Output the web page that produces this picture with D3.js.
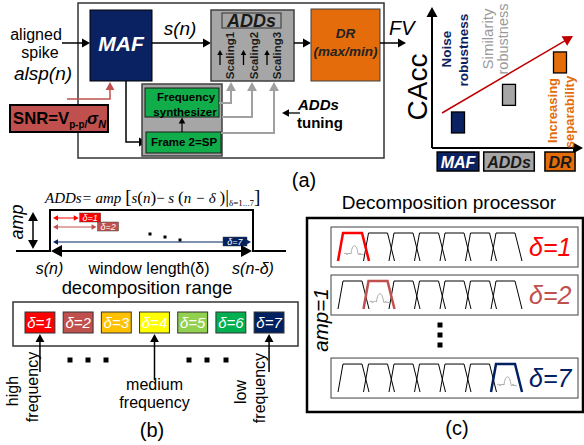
<!DOCTYPE html>
<html>
<head>
<meta charset="utf-8">
<script src="https://cdn.jsdelivr.net/npm/d3@7"></script>
<style>
  body { margin: 0; background: #fff; }
  text { font-family: "Liberation Sans", Arial, sans-serif; }
</style>
</head>
<body>
<svg id="fig" width="584" height="445"></svg>
<script>
// ---- data ----
let stages = ["MAF", "ADDs", "DR"]
let stageFill = ["#0b2262", "#a6a6a6", "#e46c0a"]
let stageInk = ["#ffffff", "#1a1a1a", "#1a1a1a"]
let caccValues = [0.185, 0.385, 0.62]          // relative CAcc level of each stage
let scalings = ["Scaling1", "Scaling2", "Scaling3"]

let deltas = [1, 2, 3, 4, 5, 6, 7]
let deltaColors = ["#ff0000", "#c0504d", "#ffc000", "#ffff00", "#92d050", "#00b050", "#002060"]
let shownDeltas = [1, 2, 7]                     // windows drawn on the pulse and rows in (c)
let windowFrac = [0.13, 0.22, 1.0]              // window length as share of the pulse
let rowSlot = [0, 1, 2.73]
let pointerDeltas = [1, 4, 7]
let pointerLabels = [["high", "frequency"], ["medium", "frequency"], ["low", "frequency"]]
let filterIndex = [0, 1, 2, 3, 4, 5, 6]

let svg = d3.select("#fig")

// ---- helpers ----
function head(g, x, y, a, h, c) {
  let hw = h * 0.55
  let pts = [
    [x, y],
    [x - h * Math.cos(a) + hw * Math.sin(a), y - h * Math.sin(a) - hw * Math.cos(a)],
    [x - h * Math.cos(a) - hw * Math.sin(a), y - h * Math.sin(a) + hw * Math.cos(a)]
  ]
  g.append("polygon").attr("points", pts.map(p => p.join(",")).join(" ")).attr("fill", c)
}

function arrow(g, x1, y1, x2, y2, opt = {}) {
  let c = opt.color || "#000", w = opt.width || 1.5, h = opt.head || 7
  let a = Math.atan2(y2 - y1, x2 - x1)
  let sx = x1, sy = y1
  if (opt.both) { sx = x1 + Math.cos(a) * h * 0.7; sy = y1 + Math.sin(a) * h * 0.7 }
  g.append("line")
    .attr("x1", sx).attr("y1", sy)
    .attr("x2", x2 - Math.cos(a) * h * 0.7).attr("y2", y2 - Math.sin(a) * h * 0.7)
    .attr("stroke", c).attr("stroke-width", w)
  head(g, x2, y2, a, h, c)
  if (opt.both) head(g, x1, y1, a + Math.PI, h, c)
}

function elbow(g, pts, opt = {}) {
  let c = opt.color || "#000", w = opt.width || 1.5, h = opt.head || 7
  let n = pts.length
  let last = pts[n - 1], prev = pts[n - 2]
  let a = Math.atan2(last[1] - prev[1], last[0] - prev[0])
  let p = pts.slice(0, n - 1).concat([[last[0] - Math.cos(a) * h * 0.7, last[1] - Math.sin(a) * h * 0.7]])
  g.append("path").attr("d", d3.line()(p)).attr("fill", "none")
    .attr("stroke", c).attr("stroke-width", w)
  head(g, last[0], last[1], a, h, c)
}

function label(g, x, y, str, size, opt = {}) {
  let t = g.append("text").attr("x", x).attr("y", y)
    .attr("font-size", size)
    .attr("text-anchor", opt.anchor || "middle")
    .attr("fill", opt.fill || "#000")
    .attr("font-weight", opt.bold ? "bold" : "normal")
    .attr("font-style", opt.italic ? "italic" : "normal")
    .text(str)
  if (opt.rotate) t.attr("transform", `rotate(-90,${x},${y})`).attr("dominant-baseline", "central")
  if (opt.family) t.style("font-family", opt.family)
  return t
}

// ================= (a) =================
let a = svg.append("g")

a.append("rect").attr("x", 78).attr("y", 3).attr("width", 306).attr("height", 155)
  .attr("fill", "none").attr("stroke", "#333").attr("stroke-width", 1.5)

label(a, 36, 40, "aligned", 16)
label(a, 40, 58, "spike", 16)
label(a, 43, 80, "alsp(n)", 19, { italic: true })
arrow(a, 62, 43, 90, 43, { head: 8 })

// MAF
a.append("rect").attr("x", 90).attr("y", 10).attr("width", 62).attr("height", 71)
  .attr("fill", stageFill[0]).attr("stroke", "#000").attr("stroke-width", 1)
label(a, 121, 51, "MAF", 21, { bold: true, italic: true, fill: "#fff" })

label(a, 180, 35, "s(n)", 19, { italic: true })
arrow(a, 152, 43, 211, 43, { head: 8 })

// SNR box
a.append("rect").attr("x", 10).attr("y", 105).attr("width", 98).attr("height", 27)
  .attr("fill", "#c0504d").attr("stroke", "#000").attr("stroke-width", 2)
let snr = a.append("text").attr("x", 13).attr("y", 124).attr("font-weight", "bold").attr("font-size", 17)
snr.append("tspan").text("SNR=V")
snr.append("tspan").attr("font-size", 10).attr("dy", 4).text("p-p/")
snr.append("tspan").attr("font-style", "italic").attr("dy", -4).text("σ")
snr.append("tspan").attr("font-style", "italic").attr("font-size", 11).attr("dy", 4).text("N")
let snrW = snr.node().getComputedTextLength()
if (snrW > 93) snr.attr("textLength", 93).attr("lengthAdjust", "spacingAndGlyphs")
elbow(a, [[67, 99], [110, 99], [110, 82]], { color: "#c0504d", width: 1.5, head: 8 })

// MAF -> frame
elbow(a, [[126, 81], [126, 142], [147, 142]], { head: 8 })

// synthesizer group
a.append("rect").attr("x", 142).attr("y", 84).attr("width", 80).attr("height", 72)
  .attr("fill", "#a6a6a6").attr("stroke", "#404040").attr("stroke-width", 1.5)
a.append("rect").attr("x", 145).attr("y", 88).attr("width", 74).attr("height", 29)
  .attr("fill", "#12ad4b").attr("stroke", "#1a1a1a").attr("stroke-width", 1)
a.append("rect").attr("x", 146).attr("y", 132).attr("width", 75).attr("height", 21)
  .attr("fill", "#12ad4b").attr("stroke", "#1a1a1a").attr("stroke-width", 1)
label(a, 186, 101, "Frequency", 11.5, { bold: true })
label(a, 185, 116, "synthesizer", 11.5, { bold: true })
label(a, 184, 146, "Frame 2=SP", 11.5, { bold: true })
arrow(a, 182, 132, 182, 117.5, { head: 6, width: 1.2 })

// tuning lines to the scaling inputs
let tuneX = [231, 252, 274]
let tuneFrom = [[219, 103], [222, 117], [221, 133]]
tuneX.forEach((x, i) => {
  elbow(a, [tuneFrom[i], [x, tuneFrom[i][1]], [x, 82]], { color: "#a0a0a0", width: 2, head: 9 })
})

// ADDs block
a.append("rect").attr("x", 211).attr("y", 10).attr("width", 83).attr("height", 71)
  .attr("fill", stageFill[1]).attr("stroke", "#404040").attr("stroke-width", 1.5)
a.append("rect").attr("x", 222).attr("y", 13).attr("width", 59).attr("height", 15)
  .attr("fill", stageFill[1]).attr("stroke", "#333").attr("stroke-width", 1)
label(a, 251.5, 27, "ADDs", 18, { bold: true, italic: true, fill: "#1a1a1a" })
let scX = d3.scalePoint().domain(scalings).range([230, 277])
scalings.forEach(s => {
  label(a, scX(s), 55.5, s, 11.5, { bold: true, rotate: true, fill: "#1a1a1a" })
  arrow(a, scX(s) - 10, 65, scX(s) - 10, 50, { head: 5, width: 1.3 })
})

arrow(a, 294, 43, 311, 43, { head: 8 })

// DR block
a.append("rect").attr("x", 311).attr("y", 9).attr("width", 69).attr("height", 72)
  .attr("fill", stageFill[2]).attr("stroke", "#404040").attr("stroke-width", 1)
label(a, 345.5, 38, "DR", 13.5, { bold: true, italic: true, fill: "#222" })
label(a, 345.5, 56, "(max/min)", 13.5, { bold: true, italic: true, fill: "#222" })

arrow(a, 380, 43, 406, 43, { head: 8 })
label(a, 389, 35, "FV", 20, { italic: true, anchor: "start" })

// ADDs tuning
arrow(a, 300, 113, 282, 113, { head: 7, width: 1.3 })
label(a, 298, 110, "ADDs", 15, { bold: true, italic: true, anchor: "start" })
label(a, 297, 128, "tuning", 15, { bold: true, anchor: "start" })

// CAcc chart
let cx = d3.scalePoint().domain(stages).range([458, 560])
let cy = d3.scaleLinear().domain([0, 1]).range([148, 10])
arrow(a, 432, 148, 432, 7, { head: 10, width: 2 })
arrow(a, 432, 148, 583, 148, { head: 10, width: 2 })
label(a, 417, 87, "CAcc", 28, { rotate: true })

stages.forEach((s, i) => {
  a.append("rect").attr("x", cx(s) - 6.5).attr("y", cy(caccValues[i]) - 10.5)
    .attr("width", 13).attr("height", 21)
    .attr("fill", stageFill[i]).attr("stroke", "#000").attr("stroke-width", 1.3)
})
arrow(a, 442, 113, 573, 36, { color: "#c00000", width: 1.5, head: 10 })

label(a, 446, 49, "Noise", 13.5, { bold: true, rotate: true, fill: "#0b2262" })
label(a, 463, 50, "robustness", 13.5, { bold: true, rotate: true, fill: "#0b2262" })
label(a, 487, 39, "Similarity", 15, { rotate: true, fill: "#9a9a9a" })
label(a, 503, 39, "robustness", 14.5, { rotate: true, fill: "#9a9a9a" })
label(a, 552, 110.5, "Increasing", 13, { bold: true, rotate: true, fill: "#e46c0a" })
label(a, 569, 112, "separability", 13, { bold: true, rotate: true, fill: "#e46c0a" })

stages.forEach((s, i) => {
  let t = label(a, cx(s), 168, s, 16, { bold: true, italic: true, fill: stageInk[i] })
  let w = t.node().getComputedTextLength() + 7
  a.insert("rect", () => t.node()).attr("x", cx(s) - w / 2).attr("y", 152)
    .attr("width", w).attr("height", 19)
    .attr("fill", stageFill[i]).attr("stroke", "#000").attr("stroke-width", 1.5)
})

label(a, 304, 187, "(a)", 20)

// ================= (b) =================
let b = svg.append("g")

let f = b.append("text").attr("x", 45).attr("y", 203).attr("font-size", 15)
  .attr("font-style", "italic").style("font-family", "'Liberation Serif', 'Times New Roman', serif")
f.append("tspan").text("ADDs= amp ")
f.append("tspan").attr("font-style", "normal").attr("font-size", 19).text("[")
f.append("tspan").text("s")
f.append("tspan").attr("font-style", "normal").attr("font-size", 17).text("(")
f.append("tspan").text("n")
f.append("tspan").attr("font-style", "normal").attr("font-size", 17).text(")")
f.append("tspan").attr("font-style", "normal").text("\u2212 ")
f.append("tspan").text("s ")
f.append("tspan").attr("font-style", "normal").attr("font-size", 17).text("(")
f.append("tspan").text("n \u2212 δ ")
f.append("tspan").attr("font-style", "normal").attr("font-size", 17).text(")")
f.append("tspan").attr("font-style", "normal").attr("font-size", 19).text("|")
f.append("tspan").attr("font-style", "normal").attr("font-size", 9).attr("dy", 3).text("δ=1...7")
f.append("tspan").attr("font-style", "normal").attr("font-size", 19).attr("dy", -3).text("]")

// pulse
b.append("path").attr("d", "M16,251 H50 V210 H253 V251 H286")
  .attr("fill", "none").attr("stroke", "#000").attr("stroke-width", 2)
arrow(b, 33, 212, 33, 249, { both: true, head: 9, width: 1.5 })
label(b, 17, 222, "amp", 18, { italic: true, rotate: true })

let wx = d3.scaleLinear().domain([0, 1]).range([53, 251])
let wy = [218, 227, 242]
shownDeltas.forEach((d, i) => {
  let col = deltaColors[d - 1]
  let x2 = wx(windowFrac[i])
  arrow(b, 53, wy[i], x2, wy[i], { both: true, color: col, head: 5, width: 1 })
  let bx = windowFrac[i] < 1 ? x2 + 1 : x2 - 28
  let by = wy[i] - 5
  b.append("rect").attr("x", bx).attr("y", by).attr("width", d < 7 ? 21 : 24).attr("height", 9)
    .attr("fill", col).attr("stroke", "#444").attr("stroke-width", 0.5)
  label(b, bx + (d < 7 ? 10.5 : 12), by + 8, "δ=" + d, 9, { italic: true, fill: "#fff" })
})
let pulseDots = [[150, 234], [165, 237], [180, 240]]
pulseDots.forEach(p => b.append("rect").attr("x", p[0] - 1.5).attr("y", p[1] - 1.5)
  .attr("width", 3).attr("height", 3).attr("fill", "#000"))
arrow(b, 51, 251, 252, 251, { both: true, head: 11, width: 2 })

label(b, 49.5, 274, "s(n)", 16, { italic: true })
label(b, 149, 274, "window length(δ)", 16)
label(b, 253, 274, "s(n-δ)", 16, { italic: true })
label(b, 147, 294, "decomposition range", 18.4)

// decomposition range cells
b.append("rect").attr("x", 13).attr("y", 302).attr("width", 285).attr("height", 44)
  .attr("fill", "none").attr("stroke", "#333").attr("stroke-width", 1.5)
let bx = d3.scaleBand().domain(deltas).range([25, 284]).paddingInner(0.217)
b.selectAll(".cell").data(deltas).enter().append("rect")
  .attr("class", "cell")
  .attr("x", d => bx(d)).attr("y", 312)
  .attr("width", bx.bandwidth()).attr("height", 21)
  .attr("fill", d => deltaColors[d - 1]).attr("stroke", "#333").attr("stroke-width", 1)
b.selectAll(".cellt").data(deltas).enter().append("text")
  .attr("class", "cellt")
  .attr("x", d => bx(d) + bx.bandwidth() / 2).attr("y", 328)
  .attr("text-anchor", "middle").attr("font-size", 15).attr("font-style", "italic")
  .attr("fill", "#fff").text(d => "δ=" + d)

let pointerStart = [372, 380, 372]
pointerDeltas.forEach((d, i) => {
  let x = bx(d) + bx.bandwidth() / 2
  arrow(b, x, pointerStart[i], x, 334, { head: 8, width: 1.5 })
})
let rangeDots = [70, 88, 106, 189, 207, 226]
rangeDots.forEach(x => b.append("rect").attr("x", x - 2.5).attr("y", 357.5)
  .attr("width", 5).attr("height", 5).attr("fill", "#000"))

label(b, 12, 391, pointerLabels[0][0], 16, { rotate: true })
label(b, 32, 387, pointerLabels[0][1], 16, { rotate: true })
label(b, 154.5, 390, pointerLabels[1][0], 16)
label(b, 154.5, 408, pointerLabels[1][1], 16)
label(b, 240, 392, pointerLabels[2][0], 16, { rotate: true })
label(b, 259, 388, pointerLabels[2][1], 16, { rotate: true })

label(b, 152, 437, "(b)", 20)

// ================= (c) =================
let c = svg.append("g")
label(c, 449, 209, "Decomposition processor", 19)
c.append("rect").attr("x", 307).attr("y", 218).attr("width", 276).attr("height", 194)
  .attr("fill", "none").attr("stroke", "#000").attr("stroke-width", 2.5)
label(c, 320, 320, "amp=1", 20.5, { italic: true, rotate: true })

let fx = d3.scaleLinear().domain([0, 7]).range([338, 516.5])
let ry = d3.scaleLinear().domain([0, 1]).range([227, 275])

function trap(g, k, top, bottom, col, w) {
  let x0 = fx(k)
  g.append("path")
    .attr("d", d3.line()([[x0, bottom], [x0 + 5, top], [x0 + 24, top], [x0 + 31, bottom]]))
    .attr("fill", "none").attr("stroke", col).attr("stroke-width", w)
}

shownDeltas.forEach((d, i) => {
  let y0 = ry(rowSlot[i])
  let col = deltaColors[d - 1]
  c.append("rect").attr("x", 331).attr("y", y0).attr("width", 247).attr("height", 40)
    .attr("fill", "#fff").attr("stroke", "#404040").attr("stroke-width", 1)
  let top = y0 + 6, bottom = y0 + 34
  filterIndex.forEach(k => { if (k !== d - 1) trap(c, k, top, bottom, "#000", 1) })
  // small spike sketch inside the selected band
  let sx = fx(d - 1)
  let base = bottom - 7
  c.append("path")
    .attr("d", `M${sx + 6},${base} l2,-1 l1,2 l1,-2 l1,1 l1,-1 l1,1 ` +
      `C${sx + 14},${base - 11} ${sx + 19},${base - 11} ${sx + 20},${base} l1,1 l1,-2 l1,2 l1,-1 l2,1`)
    .attr("fill", "none").attr("stroke", "#999").attr("stroke-width", 0.8)
  trap(c, d - 1, top, bottom, col, 2.5)
  label(c, 529, y0 + 29, "δ=" + d, 25, { italic: true, fill: col, anchor: "start" })
})
let rowDots = [325, 335, 345]
rowDots.forEach(y => c.append("rect").attr("x", 437.5).attr("y", y - 2.5)
  .attr("width", 5).attr("height", 5).attr("fill", "#000"))

label(c, 457, 435, "(c)", 20)
</script>
</body>
</html>
